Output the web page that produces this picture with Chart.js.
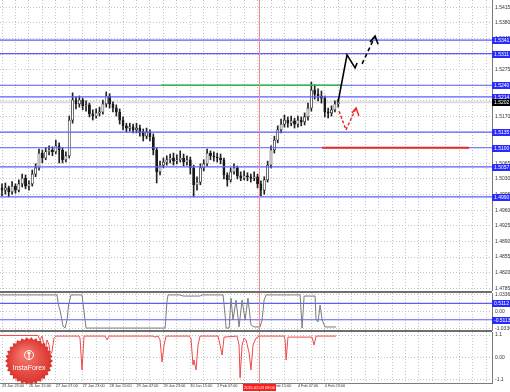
<!DOCTYPE html>
<html>
<head>
<meta charset="utf-8">
<title>GBP/USD H1</title>
<script src="https://cdn.jsdelivr.net/npm/chart.js@4.4.1/dist/chart.umd.min.js"></script>
<style>
  html, body { margin: 0; padding: 0; background: #fff; }
  #wrap { position: relative; width: 510px; height: 392px; overflow: hidden; background: #fff; }
  #wrap canvas { position: absolute; left: 0; }
</style>
</head>
<body>
<div id="wrap">
  <canvas id="main" width="510" height="291" style="top:0"></canvas>
  <canvas id="osc" width="510" height="41" style="top:291px"></canvas>
  <canvas id="ind" width="510" height="60" style="top:332px"></canvas>
</div>
<script>
// time axis, in trading hours counted from 23 Jan 23:00
const timeLabels = ['23 Jan 23:00', '26 Jan 15:00', '27 Jan 07:00', '27 Jan 23:00', '28 Jan 15:00',
  '29 Jan 07:00', '29 Jan 23:00', '30 Jan 15:00', '2 Feb 07:00', '2 Feb 23:00', '3 Feb 15:00',
  '4 Feb 07:00', '4 Feb 23:00'];
const timeHours = [0, 16, 32, 48, 64, 80, 96, 112, 128, 144, 160, 176, 192];
const cursorHour = 153;
const cursorLabel = '2015.02.03 08:00';

// candles, one every 2 hours
const openP = [1.5010,1.5005,1.5010,1.5001,1.5014,1.5005,1.5019,1.5032,1.5014,1.5019,
  1.5041,1.5055,1.5088,1.5077,1.5091,1.5095,1.5091,1.5104,1.5095,1.5073,
  1.5082,1.5162,1.5207,1.5198,1.5207,1.5194,1.5196,1.5176,1.5171,1.5178,
  1.5180,1.5198,1.5216,1.5198,1.5189,1.5180,1.5162,1.5149,1.5144,1.5147,
  1.5140,1.5144,1.5135,1.5126,1.5135,1.5124,1.5095,1.5046,1.5061,1.5068,
  1.5073,1.5077,1.5070,1.5073,1.5077,1.5068,1.5073,1.5055,1.5017,1.5023,
  1.5055,1.5064,1.5088,1.5082,1.5079,1.5077,1.5073,1.5039,1.5028,1.5046,
  1.5055,1.5037,1.5032,1.5037,1.5035,1.5032,1.5035,1.5019,1.5005,1.5028,
  1.5061,1.5095,1.5117,1.5140,1.5153,1.5162,1.5155,1.5160,1.5153,1.5162,
  1.5158,1.5169,1.5189,1.5229,1.5220,1.5216,1.5211,1.5180,1.5178,1.5185,
  1.5198];
const highP = [1.5019,1.5021,1.5014,1.5024,1.5019,1.5028,1.5041,1.5039,1.5026,1.5050,
  1.5064,1.5097,1.5095,1.5100,1.5104,1.5102,1.5117,1.5111,1.5100,1.5091,
  1.5171,1.5223,1.5214,1.5216,1.5211,1.5205,1.5200,1.5185,1.5187,1.5191,
  1.5207,1.5225,1.5221,1.5203,1.5196,1.5187,1.5169,1.5155,1.5155,1.5153,
  1.5155,1.5151,1.5142,1.5144,1.5140,1.5131,1.5100,1.5070,1.5077,1.5082,
  1.5086,1.5088,1.5084,1.5093,1.5086,1.5082,1.5079,1.5061,1.5035,1.5064,
  1.5073,1.5097,1.5093,1.5091,1.5088,1.5086,1.5077,1.5044,1.5055,1.5064,
  1.5059,1.5046,1.5048,1.5044,1.5041,1.5046,1.5041,1.5026,1.5035,1.5070,
  1.5104,1.5126,1.5149,1.5164,1.5173,1.5169,1.5171,1.5166,1.5171,1.5169,
  1.5178,1.5200,1.5247,1.5241,1.5232,1.5227,1.5216,1.5189,1.5194,1.5205,
  1.5209];
const lowP = [1.4992,1.4996,1.4990,1.4996,1.4998,1.5001,1.5012,1.5008,1.5005,1.5014,
  1.5035,1.5050,1.5066,1.5073,1.5084,1.5082,1.5086,1.5066,1.5066,1.5068,
  1.5077,1.5155,1.5187,1.5191,1.5185,1.5182,1.5169,1.5162,1.5166,1.5171,
  1.5175,1.5191,1.5189,1.5180,1.5171,1.5153,1.5140,1.5135,1.5137,1.5133,
  1.5133,1.5126,1.5115,1.5120,1.5115,1.5084,1.5021,1.5039,1.5055,1.5061,
  1.5066,1.5061,1.5064,1.5068,1.5059,1.5061,1.5041,1.4990,1.5005,1.5017,
  1.5048,1.5059,1.5073,1.5070,1.5068,1.5064,1.5030,1.5014,1.5023,1.5041,
  1.5030,1.5026,1.5028,1.5026,1.5023,1.5026,1.5010,1.4992,1.4996,1.5023,
  1.5055,1.5088,1.5111,1.5133,1.5146,1.5146,1.5149,1.5144,1.5146,1.5149,
  1.5151,1.5162,1.5182,1.5209,1.5205,1.5200,1.5169,1.5167,1.5171,1.5180,
  1.5191];
const closeP = [1.5005,1.5010,1.5001,1.5014,1.5005,1.5019,1.5032,1.5014,1.5019,1.5041,
  1.5055,1.5088,1.5077,1.5091,1.5095,1.5091,1.5104,1.5095,1.5073,1.5082,
  1.5162,1.5207,1.5198,1.5207,1.5194,1.5196,1.5176,1.5171,1.5178,1.5180,
  1.5198,1.5216,1.5198,1.5189,1.5180,1.5162,1.5149,1.5144,1.5147,1.5140,
  1.5144,1.5135,1.5126,1.5135,1.5124,1.5095,1.5046,1.5061,1.5068,1.5073,
  1.5077,1.5070,1.5073,1.5077,1.5068,1.5073,1.5055,1.5017,1.5023,1.5055,
  1.5064,1.5088,1.5082,1.5079,1.5077,1.5073,1.5039,1.5028,1.5046,1.5055,
  1.5037,1.5032,1.5037,1.5035,1.5032,1.5035,1.5019,1.5005,1.5028,1.5061,
  1.5095,1.5117,1.5140,1.5153,1.5162,1.5155,1.5160,1.5153,1.5162,1.5158,
  1.5169,1.5189,1.5229,1.5220,1.5216,1.5211,1.5180,1.5178,1.5185,1.5198,
  1.5202];

const priceTicks = [1.5415, 1.5380, 1.5345, 1.5310, 1.5275, 1.5240, 1.5205, 1.5170, 1.5135, 1.5100,
  1.5065, 1.5030, 1.4995, 1.4960, 1.4925, 1.4890, 1.4855, 1.4820, 1.4785];
const blueLevels = [1.5341, 1.5311, 1.5240, 1.5214, 1.5135, 1.5100, 1.5057, 1.4990];
const bidPrice = 1.5202;
const greenLevel = [[94.6, 1.5240], [202.3, 1.5240]];
const redLevel = [[190.4, 1.5100], [277.8, 1.5100]];

// forecast arrows drawn on the chart
const upPath = [[199.9, 1.5202], [205.2, 1.5308], [210.0, 1.5279], [211.2, 1.5290]];
const upDash = [[214.2, 1.5288], [221.9, 1.5350]];
const upHead = [[218.9, 1.5337], [221.9, 1.5350], [223.7, 1.5332]];
const downDash = [[200.5, 1.5182], [204.6, 1.5140], [210.6, 1.5189]];
const downHead = [[208.2, 1.5178], [210.6, 1.5189], [212.3, 1.5171]];

// oscillator panel
const oscHours = [-1.2, 32.7, 33.6, 34.5, 36.3, 37.5, 38.7, 39.6, 41.0, 47.6, 48.8, 50.0, 97.0, 98.2, 98.8,
  105.9, 107.7, 117.8, 119.0, 131.5, 132.7, 133.3, 135.1, 136.2, 137.4, 139.2, 141.0, 142.8, 144.6, 146.3,
  148.1, 149.9, 153.5, 154.7, 155.9, 157.1, 177.3, 178.5, 179.7, 186.2, 186.8, 188.0, 189.2, 190.4, 192.1, 198.7];
const oscValues = [1.03, 1.03, 0.40, 0.09, -0.90, -1.03, -0.52, 0.40, 1.03, 1.03, -0.03, -1.03, -1.03, 0.71, 1.03,
  1.03, 0.96, 0.96, 1.03, 1.03, -0.22, -1.03, -1.03, 0.83, -0.52, 0.71, -0.96, 0.71, -0.52, 0.83,
  -0.83, -0.96, -0.96, -0.52, 0.71, 1.03, 1.03, -1.03, 0.96, 0.96, -0.52, -0.65, 0.40, -0.52, -0.96, -0.96];
const oscTicks = [1.0336, 0, -1.0336];
const oscLevels = [0.5112, -0.5113];

// lower indicator panel
const indHours = [-1.2, 21.4, 22.6, 23.8, 25.0, 25.6, 26.2, 26.8, 28.0, 28.6, 29.7, 30.9, 32.1, 45.8, 46.4,
  47.6, 48.8, 61.3, 62.5, 63.7, 89.8, 91.0, 92.8, 94.0, 95.2, 96.4, 97.6, 111.2, 112.4, 113.6,
  114.2, 115.4, 116.6, 117.8, 128.5, 129.7, 130.9, 132.1, 139.8, 141.0, 141.6, 142.8, 144.0, 145.2, 146.3,
  146.9, 148.1, 149.3, 151.1, 152.9, 167.8, 168.4, 169.0, 170.1, 184.4, 185.6, 186.8, 198.7];
const indValues = [1.08, 1.08, 0.86, 1.05, 0.61, -0.71, 0.61, 0.86, 0.61, 0.12, 0.27, 0.95, 1.05, 1.05, 0.95,
  -0.61, 1.05, 1.05, 0.86, 1.05, 1.05, 1.0, 1.05, 0.86, -0.22, 0.61, 1.05, 1.05, 0.95, -0.37,
  -0.12, -0.61, 0.61, 1.05, 1.05, 0.61, 0.12, 1.0, 1.05, 0.61, -1.0, 0.61, 0.95, 0.86, 0.46,
  0.27, -0.61, 0.61, 0.95, 1.05, 1.05, 0.86, -0.12, 1.0, 1.0, 0.61, 1.05, 1.05];
const indTicks = [1.1, 0, -1.1];

const X_MIN = -1.19, X_MAX = 291.45;
const GRID = '#c4c4c4';
const BLUE = '#5c5cff';
const FONT = 'Liberation Sans';

const gridHours = [];
for (let h = 0; h <= 288; h += 8) gridHours.push(h);

function timeAxis(showLabels) {
  return {
    type: 'linear', min: X_MIN, max: X_MAX, offset: false,
    afterBuildTicks: s => { s.ticks = gridHours.map(v => ({ value: v })); },
    afterFit: s => { s.height = showLabels ? 9 : 0; s.paddingLeft = 0; s.paddingRight = 0; },
    grid: { color: GRID, offset: false, drawTicks: false },
    border: { display: showLabels, color: '#7a7a7a', dash: [1, 2] },
    ticks: {
      display: showLabels, autoSkip: false, maxRotation: 0, minRotation: 0, align: 'start', padding: 1,
      color: '#333', font: { family: FONT, size: 3.8 },
      callback: v => { const k = timeHours.indexOf(v); return k < 0 ? '' : timeLabels[k]; }
    }
  };
}

function valueAxis(min, max, ticks, fmt) {
  return {
    position: 'right', min: min, max: max, beginAtZero: false,
    afterBuildTicks: s => { s.ticks = ticks.map(v => ({ value: v })); },
    afterFit: s => { s.width = 18; s.paddingTop = 0; s.paddingBottom = 0; },
    grid: { color: GRID, drawTicks: false },
    border: { display: true, color: '#7a7a7a', dash: [1, 2] },
    ticks: { autoSkip: false, padding: 3, color: '#333', font: { family: FONT, size: 5 }, callback: fmt }
  };
}

function path(points, color, width, dash, order) {
  return {
    type: 'line',
    data: points.map(p => ({ x: p[0], y: p[1] })),
    borderColor: color, borderWidth: width, borderDash: dash || [],
    pointRadius: 0, fill: false, tension: 0, order: order
  };
}

function labelBox(ctx, x, y, text, fill) {
  const yy = Math.round(y);
  ctx.fillStyle = fill;
  ctx.fillRect(x, yy - 3, 18, 7);
  ctx.fillStyle = '#fff';
  ctx.fillText(text, x + 2, yy + 0.5);
}

function crosshair(toBottom) {
  return {
    id: 'crosshair',
    afterDatasetsDraw(chart) {
      const ctx = chart.ctx, x = Math.round(chart.scales.x.getPixelForValue(cursorHour)) + 0.5;
      ctx.save();
      ctx.strokeStyle = '#ef8a8a';
      ctx.lineWidth = 1;
      ctx.beginPath();
      ctx.moveTo(x, chart.chartArea.top);
      ctx.lineTo(x, toBottom ? chart.height : chart.chartArea.bottom);
      ctx.stroke();
      ctx.restore();
    }
  };
}

const priceBoxes = {
  id: 'priceBoxes',
  afterDraw(chart) {
    const ctx = chart.ctx, y = chart.scales.y, left = chart.chartArea.right;
    ctx.save();
    ctx.font = '5px "' + FONT + '"';
    ctx.textBaseline = 'middle';
    blueLevels.forEach(v => labelBox(ctx, left, y.getPixelForValue(v), v.toFixed(4), '#2a2aff'));
    labelBox(ctx, left, y.getPixelForValue(bidPrice), bidPrice.toFixed(4), '#000');
    ctx.restore();
  }
};

const oscFrame = {
  id: 'oscFrame',
  afterDraw(chart) {
    const ctx = chart.ctx, y = chart.scales.y, left = chart.chartArea.right;
    ctx.save();
    ctx.fillStyle = '#6e6e6e';
    ctx.fillRect(0, 0, left, 2);
    ctx.fillRect(0, chart.height - 2, left, 2);
    ctx.font = '5px "' + FONT + '"';
    ctx.textBaseline = 'middle';
    oscLevels.forEach(v => labelBox(ctx, left, y.getPixelForValue(v), v.toFixed(4), '#2a2aff'));
    ctx.restore();
  }
};

const indDecor = {
  id: 'indDecor',
  afterDraw(chart) {
    const ctx = chart.ctx;
    const cx = chart.scales.x.getPixelForValue(cursorHour);
    ctx.save();
    // cursor time box
    ctx.fillStyle = '#ff1c1c';
    ctx.fillRect(Math.round(cx) - 16, chart.chartArea.bottom + 1, 33, 7);
    ctx.fillStyle = '#fff';
    ctx.font = '4px "' + FONT + '"';
    ctx.textAlign = 'center';
    ctx.textBaseline = 'middle';
    ctx.fillText(cursorLabel, Math.round(cx) + 0.5, chart.chartArea.bottom + 4.5);

    // broker badge
    const bx = 29, by = 29, spikes = 30;
    ctx.beginPath();
    for (let i = 0; i < spikes * 2; i++) {
      const r = i % 2 ? 21.5 : 24;
      const a = Math.PI * i / spikes;
      ctx.lineTo(bx + r * Math.cos(a), by + r * Math.sin(a));
    }
    ctx.closePath();
    const g = ctx.createRadialGradient(bx - 5, by - 7, 2, bx, by, 24);
    g.addColorStop(0, '#f7796d');
    g.addColorStop(1, '#d8302b');
    ctx.fillStyle = g;
    ctx.fill();

    ctx.strokeStyle = '#fff';
    ctx.fillStyle = '#fff';
    ctx.lineWidth = 1;
    ctx.beginPath();
    ctx.arc(bx, by - 6, 4.5, 0, Math.PI * 2);
    ctx.stroke();
    ctx.fillRect(bx - 0.6, by - 8, 1.2, 6);
    ctx.beginPath();
    ctx.arc(bx, by - 8, 1.6, 0, Math.PI * 2);
    ctx.fill();

    ctx.font = '7px "' + FONT + '"';
    ctx.fillText('InstaForex', bx, by + 7);
    ctx.restore();
  }
};

const baseOptions = {
  responsive: false,
  animation: false,
  devicePixelRatio: 1,
  plugins: { legend: { display: false }, tooltip: { enabled: false } }
};

// main price chart
const wicks = {
  type: 'bar',
  data: closeP.map((c, i) => ({ x: i * 2, y: [lowP[i], highP[i]] })),
  backgroundColor: '#222',
  barThickness: 1, maxBarThickness: 1, grouped: false, order: 6
};
const bodies = {
  type: 'bar',
  data: closeP.map((c, i) => ({ x: i * 2, y: [openP[i], c] })),
  backgroundColor: closeP.map((c, i) => c >= openP[i] ? '#ffffff' : '#1a1a1a'),
  borderColor: '#1a1a1a', borderWidth: 0.7, borderSkipped: false,
  barThickness: 2.2, maxBarThickness: 2.2, minBarLength: 1, grouped: false, order: 5
};

const mainSets = [
  path([[X_MIN, bidPrice], [X_MAX, bidPrice]], '#dcdcdc', 2, null, 8),
  wicks,
  bodies
].concat(blueLevels.map(v => path([[X_MIN, v], [X_MAX, v]], BLUE, 1.2, null, 3)))
 .concat([
  path(greenLevel, '#2fba44', 1.6, null, 2),
  path(redLevel, '#e62828', 1.8, null, 2),
  path(upPath, '#000', 1.6, null, 1),
  path(upDash, '#000', 1.6, [4, 3], 1),
  path(upHead, '#000', 1.6, null, 1),
  path(downDash, '#ee2020', 1.4, [3, 2], 1),
  path(downHead, '#ee2020', 1.4, null, 1)
]);

new Chart(document.getElementById('main'), {
  type: 'bar',
  data: { datasets: mainSets },
  options: Object.assign({}, baseOptions, {
    layout: { padding: 0 },
    scales: {
      x: timeAxis(false),
      y: valueAxis(1.4779, 1.5431, priceTicks, v => v.toFixed(4))
    }
  }),
  plugins: [crosshair(false), priceBoxes]
});

// oscillator panel
new Chart(document.getElementById('osc'), {
  type: 'line',
  data: {
    datasets: [
      path(oscHours.map((h, i) => [h, oscValues[i]]), '#7b7b7b', 1, null, 2)
    ].concat(oscLevels.map(v => path([[X_MIN, v], [X_MAX, v]], BLUE, 1.2, null, 3)))
  },
  options: Object.assign({}, baseOptions, {
    layout: { padding: { top: 2, bottom: 2, left: 0, right: 0 } },
    scales: {
      x: timeAxis(false),
      y: valueAxis(-1.15, 1.15, oscTicks, v => v === 0 ? '0.00' : v.toFixed(4))
    }
  }),
  plugins: [crosshair(false), oscFrame]
});

// lower panel with time axis
new Chart(document.getElementById('ind'), {
  type: 'line',
  data: {
    datasets: [path(indHours.map((h, i) => [h, indValues[i]]), '#f04848', 1, null, 1)]
  },
  options: Object.assign({}, baseOptions, {
    layout: { padding: 0 },
    scales: {
      x: timeAxis(true),
      y: valueAxis(-1.25, 1.25, indTicks, v => v === 0 ? '0.00' : String(v))
    }
  }),
  plugins: [crosshair(true), indDecor]
});
</script>
</body>
</html>
